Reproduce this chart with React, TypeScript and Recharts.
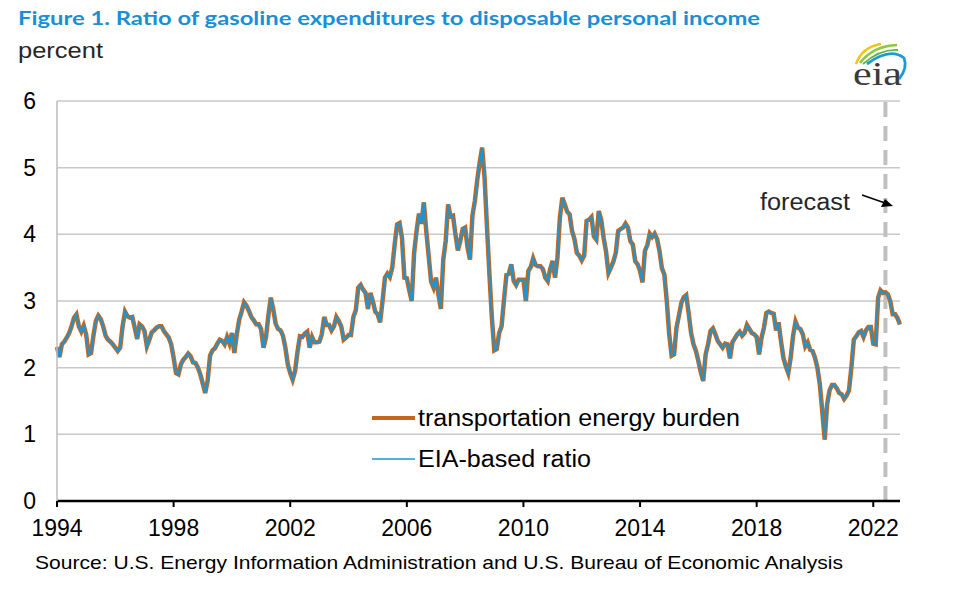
import React from 'react';
import { LineChart, Line, XAxis, YAxis, CartesianGrid, ReferenceLine } from 'recharts';

// Monthly values, January 1994 – December 2022 (percent)
const burden1994to1998 = [
  2.31, 2.16, 2.35, 2.39, 2.45, 2.52, 2.62, 2.75, 2.8, 2.62, 2.54, 2.63,
  2.5, 2.2, 2.22, 2.48, 2.7, 2.78, 2.73, 2.62, 2.48, 2.42, 2.39, 2.35,
  2.3, 2.25, 2.3, 2.62, 2.84, 2.77, 2.75, 2.76, 2.6, 2.43, 2.65, 2.62,
  2.55, 2.32, 2.42, 2.53, 2.56, 2.6, 2.62, 2.62, 2.55, 2.5, 2.45, 2.35,
  2.15, 1.92, 1.9, 2.05, 2.12, 2.16, 2.21, 2.17, 2.08, 2.07, 2.0, 1.9,
];
const burden1999to2003 = [
  1.76, 1.62, 1.8, 2.18, 2.26, 2.29, 2.36, 2.42, 2.4, 2.35, 2.46, 2.36,
  2.52, 2.22, 2.5, 2.72, 2.84, 2.98, 2.93, 2.85, 2.76, 2.71, 2.65, 2.65,
  2.58, 2.3, 2.45, 2.78, 3.05, 2.88, 2.66, 2.58, 2.56, 2.48, 2.3, 2.05,
  1.92, 1.82, 1.95, 2.24, 2.47, 2.46, 2.51, 2.54, 2.3, 2.46, 2.38, 2.38,
  2.39, 2.5, 2.76, 2.64, 2.64, 2.56, 2.62, 2.76, 2.7, 2.62, 2.42, 2.45,
];
const burden2004to2008 = [
  2.49, 2.49, 2.76, 2.86, 3.2, 3.24, 3.17, 3.12, 2.88, 3.12, 3.0, 2.84,
  2.8, 2.68, 3.0, 3.35, 3.41, 3.36, 3.5, 3.85, 4.15, 4.17, 3.95, 3.35,
  3.34, 3.16, 3.0, 3.72, 4.05, 4.31, 4.16, 4.48, 4.05, 3.67, 3.29, 3.2,
  3.35, 3.1, 2.88, 3.62, 3.9, 4.45, 4.27, 4.28, 4.0, 3.76, 3.9, 4.08,
  4.1, 3.8, 3.62, 4.28, 4.5, 4.82, 5.08, 5.3, 4.85, 4.1, 3.4, 2.75,
];
const burden2009to2013 = [
  2.26, 2.28, 2.52, 2.62, 3.02, 3.39, 3.41, 3.55, 3.3, 3.24, 3.32, 3.32,
  3.32, 3.0, 3.45, 3.51, 3.64, 3.54, 3.52, 3.52, 3.48, 3.35, 3.3, 3.48,
  3.6, 3.35, 3.65, 4.25, 4.55, 4.45, 4.34, 4.3, 4.05, 3.93, 3.72, 3.68,
  3.61, 3.68, 4.2, 4.22, 4.26, 3.97, 3.92, 4.35, 4.22, 3.95, 3.74, 3.42,
  3.5, 3.59, 3.72, 4.05, 4.08, 4.1, 4.16, 4.1, 3.9, 3.85, 3.6, 3.55,
];
const burden2014to2018 = [
  3.45, 3.28, 3.75, 3.84, 4.01, 3.96, 4.01, 3.93, 3.75, 3.49, 3.4, 3.0,
  2.5, 2.18, 2.2, 2.6, 2.78, 2.97, 3.06, 3.09, 2.82, 2.52, 2.35, 2.25,
  2.1, 1.93, 1.8, 2.2, 2.35, 2.55, 2.59, 2.5, 2.4, 2.35, 2.3, 2.36,
  2.35, 2.14, 2.38, 2.44, 2.5, 2.54, 2.48, 2.52, 2.64, 2.58, 2.52, 2.5,
  2.46, 2.2, 2.45, 2.6, 2.82, 2.84, 2.82, 2.81, 2.56, 2.68, 2.4, 2.15,
];
const burden2019to2022 = [
  2.02, 1.92, 2.15, 2.48, 2.69, 2.6, 2.58, 2.5, 2.32, 2.38, 2.27, 2.25,
  2.15, 2.0, 1.75, 1.35, 0.92, 1.45, 1.66, 1.74, 1.74, 1.69, 1.62, 1.6,
  1.53, 1.58, 1.66, 2.01, 2.42, 2.47, 2.53, 2.55, 2.46, 2.56, 2.61, 2.61,
  2.36, 2.35, 3.05, 3.16, 3.12, 3.13, 3.1, 3.0, 2.8, 2.8, 2.74, 2.65,
];

const transportationEnergyBurden = [
  ...burden1994to1998, ...burden1999to2003, ...burden2004to2008,
  ...burden2009to2013, ...burden2014to2018, ...burden2019to2022,
];
// The EIA-based ratio is drawn on top and is visually identical in the reference
const eiaBasedRatio = transportationEnergyBurden;

const firstYear = 1994;
const xTickYears = [1994, 1998, 2002, 2006, 2010, 2014, 2018, 2022];
const yTicks = [0, 1, 2, 3, 4, 5, 6];
const forecastStartMonth = { year: 2022, month: 6 };

const data = transportationEnergyBurden.map((v, i) => ({
  i,
  burden: v,
  eia: eiaBasedRatio[i],
}));

const monthIndex = (year: number, month: number) => (year - firstYear) * 12 + (month - 1);
const lastIndex = data.length - 1;

const SANS = '"Liberation Sans", Arial, Helvetica, sans-serif';
const ORANGE = '#c4661d';
const BLUE = '#1b95d3';

export default function App() {
  return (
    <div style={{ position: 'absolute', left: 0, top: 0, width: 970, height: 600, background: '#fff' }}>
      <LineChart
        width={970}
        height={600}
        data={data}
        margin={{ top: 101, right: 70, bottom: 59, left: 0 }}
      >
        <CartesianGrid vertical={false} stroke="#c8c8c8" strokeWidth={1.5} />
        <XAxis
          dataKey="i"
          type="number"
          domain={[0, lastIndex]}
          ticks={xTickYears.map((y) => monthIndex(y, 1))}
          tickFormatter={(v: number) => String(firstYear + Math.round(v / 12))}
          height={40}
          axisLine={{ stroke: '#000', strokeWidth: 2.5 }}
          tickLine={{ stroke: '#000', strokeWidth: 2 }}
          tickSize={6}
          tickMargin={13}
          tick={{ fontSize: 23, fill: '#000', fontFamily: SANS }}
          interval={0}
        />
        <YAxis
          domain={[0, 6]}
          ticks={yTicks}
          width={57}
          axisLine={{ stroke: '#bdbdbd', strokeWidth: 1.5 }}
          tickLine={false}
          tickSize={0}
          tickMargin={21}
          tick={{ fontSize: 23, fill: '#000', fontFamily: SANS }}
          interval={0}
        />
        <YAxis
          yAxisId="frame"
          orientation="right"
          domain={[0, 6]}
          width={0}
          tick={false}
          tickLine={false}
          axisLine={{ stroke: '#bdbdbd', strokeWidth: 1.5 }}
        />
        <ReferenceLine
          x={monthIndex(forecastStartMonth.year, forecastStartMonth.month)}
          stroke="#c0c0c0"
          strokeWidth={4}
          strokeDasharray="15 9"
        />
        <Line
          type="linear"
          dataKey="burden"
          stroke={ORANGE}
          strokeWidth={4.5}
          dot={false}
          isAnimationActive={false}
        />
        <Line
          type="linear"
          dataKey="eia"
          stroke={BLUE}
          strokeWidth={2}
          dot={false}
          isAnimationActive={false}
        />
      </LineChart>

      <svg
        width={970}
        height={600}
        style={{ position: 'absolute', left: 0, top: 0, pointerEvents: 'none' }}
      >
        <text
          x={18}
          y={25}
          fontFamily='Lato, "Open Sans", sans-serif'
          fontWeight={700}
          fontSize={19}
          fill="#1a8fd6"
          textLength={742}
          lengthAdjust="spacingAndGlyphs"
        >
          Figure 1. Ratio of gasoline expenditures to disposable personal income
        </text>
        <text x={18} y={58} fontFamily={SANS} fontSize={22} fill="#262626" textLength={85} lengthAdjust="spacingAndGlyphs">
          percent
        </text>

        {/* eia logo */}
        <path d="M856 64 Q862 47 881 44" stroke="#f2c318" strokeWidth={2.5} fill="none" />
        <path d="M860 63 Q873 46 897 45" stroke="#8dc63f" strokeWidth={2.5} fill="none" />
        <path d="M863 64 Q880 49 898 50" stroke="#5fb246" strokeWidth={1.8} fill="none" />
        <path d="M867 64 Q890 47 904 58 Q908 68 899 79" stroke="#1c9ad6" strokeWidth={2.8} fill="none" />
        <text
          x={853}
          y={85}
          fontFamily='"Liberation Serif", "DejaVu Serif", serif'
          fontSize={34}
          fill="#3a3a3a"
          textLength={49}
          lengthAdjust="spacingAndGlyphs"
        >
          eia
        </text>

        {/* forecast annotation */}
        <text x={760} y={210} fontFamily={SANS} fontSize={23} fill="#262626" textLength={90} lengthAdjust="spacingAndGlyphs">
          forecast
        </text>
        <line x1={862} y1={195} x2={885} y2={203} stroke="#000" strokeWidth={1.5} />
        <polygon points="893,206 881,207 885,199" fill="#000" />

        {/* legend */}
        <line x1={372} y1={418} x2={415} y2={418} stroke={ORANGE} strokeWidth={4} />
        <text x={418} y={426} fontFamily={SANS} fontSize={23} fill="#000" textLength={322} lengthAdjust="spacingAndGlyphs">
          transportation energy burden
        </text>
        <line x1={372} y1={459} x2={415} y2={459} stroke={BLUE} strokeWidth={1.5} />
        <text x={418} y={467} fontFamily={SANS} fontSize={23} fill="#000" textLength={173} lengthAdjust="spacingAndGlyphs">
          EIA-based ratio
        </text>

        {/* source */}
        <text x={35} y={569} fontFamily={SANS} fontSize={19} fill="#000" textLength={808} lengthAdjust="spacingAndGlyphs">
          Source: U.S. Energy Information Administration and U.S. Bureau of Economic Analysis
        </text>
      </svg>
    </div>
  );
}
